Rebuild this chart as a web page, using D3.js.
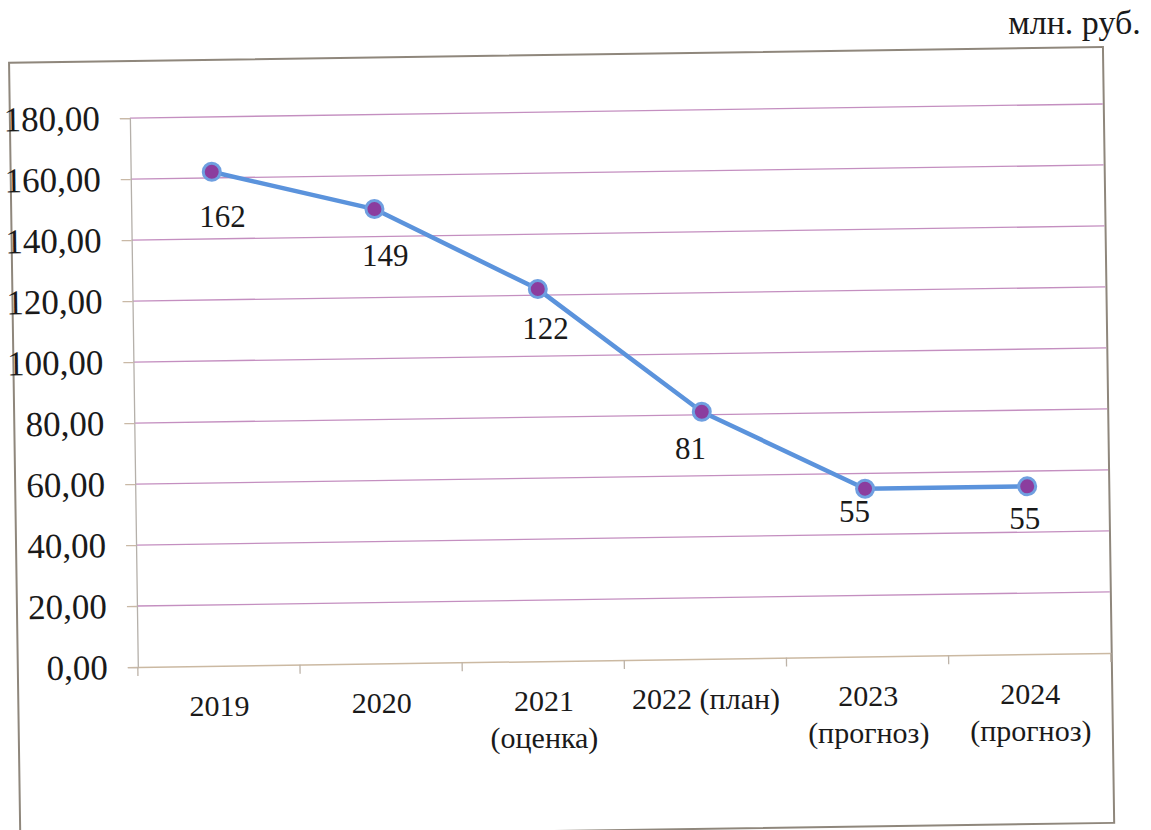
<!DOCTYPE html>
<html><head><meta charset="utf-8">
<script src="https://cdn.jsdelivr.net/npm/d3@7"></script>
<style>
html,body{margin:0;padding:0;background:#fff;}
svg{display:block;}
</style>
</head><body>
<svg id="chart" width="1151" height="830"></svg>
<script>
// Data
const categories = [["2019"], ["2020"], ["2021", "(оценка)"], ["2022 (план)"], ["2023", "(прогноз)"], ["2024", "(прогноз)"]];
const values = [162, 149, 122, 81, 55, 55];
const valueLabels = ["162", "149", "122", "81", "55", "55"];
const yTicks = [0, 20, 40, 60, 80, 100, 120, 140, 160, 180];
const unitLabel = "млн. руб.";
// label nudges (style)
const labelDx = [10, 10, 7, -12, -11, -3];
const labelDy = [55, 57, 50, 47, 33, 43];

const FONT = '"Liberation Serif", serif';
const ANG = -0.83, RCX = 620, RCY = 400;
const ar = ANG * Math.PI / 180;
const rot = (px, py) => [RCX + (px - RCX) * Math.cos(ar) - (py - RCY) * Math.sin(ar),
                         RCY + (px - RCX) * Math.sin(ar) + (py - RCY) * Math.cos(ar)];

const svg = d3.select("#chart");
const g = svg.append("g").attr("transform", `rotate(${ANG},${RCX},${RCY})`);
const tg = svg.append("g");

const box = {x: 14, y: 54, w: 1094, h: 776};
const plot = {l: 134, r: 1107, t: 111, b: 660};

g.append("rect").attr("x", box.x).attr("y", box.y).attr("width", box.w).attr("height", box.h)
  .attr("fill", "#fff").attr("stroke", "#8f877c").attr("stroke-width", 2);

const x = d3.scaleBand().domain(categories.map((d, i) => i)).range([plot.l, plot.r]);
const y = d3.scaleLinear().domain([0, 180]).range([plot.b, plot.t]);

// gridlines
g.append("g").selectAll("line").data(yTicks.filter(d => d > 0)).join("line")
  .attr("x1", plot.l).attr("x2", plot.r).attr("y1", d => y(d)).attr("y2", d => y(d))
  .attr("stroke", "#c48fc0").attr("stroke-width", 1.3);

// y axis
const yAxis = d3.axisLeft(y).tickValues(yTicks).tickSize(10).tickPadding(20)
  .tickFormat(d => d3.format(".2f")(d).replace(".", ","));
const ya = g.append("g").attr("transform", `translate(${plot.l},0)`).call(yAxis);
ya.select(".domain").attr("stroke", "#b5b0aa").attr("stroke-width", 1.3);
ya.selectAll(".tick line").attr("stroke", "#c9b9a6").attr("stroke-width", 1.3);
ya.selectAll("text").style("font-family", FONT).style("font-size", "35px").attr("fill", "#1a1a1a");

// x axis
const xa = g.append("g").attr("transform", `translate(0,${plot.b})`)
  .call(d3.axisBottom(x).tickSize(0).tickFormat(""));
xa.select(".domain").attr("stroke", "#cbb9a2").attr("stroke-width", 1.5);
xa.selectAll(".tick").remove();
const bounds = d3.range(categories.length + 1).map(i => plot.l + i * x.bandwidth());
xa.selectAll(".btick").data(bounds).join("line").attr("class", "btick")
  .attr("x1", d => d).attr("x2", d => d).attr("y1", 0).attr("y2", 9)
  .attr("stroke", "#bdb3a8").attr("stroke-width", 1.3);

// line
const cx = i => x(i) + x.bandwidth() / 2;
const line = d3.line().x((d, i) => cx(i)).y(d => y(d));
g.append("path").datum(values).attr("d", line).attr("fill", "none")
  .attr("stroke", "#5b93dc").attr("stroke-width", 4.5).attr("stroke-linejoin", "round");

// markers
g.append("g").selectAll("circle").data(values).join("circle")
  .attr("cx", (d, i) => cx(i)).attr("cy", d => y(d)).attr("r", 8.5)
  .attr("fill", "#8b3d9e").attr("stroke", "#6f9fe0").attr("stroke-width", 3);

// text helper (positions through rotation, text upright)
function addText(px, py, str, size, anchor) {
  const p = rot(px, py);
  return tg.append("text").attr("x", p[0]).attr("y", p[1])
    .attr("text-anchor", anchor).attr("font-family", FONT).attr("font-size", size)
    .style("font-family", FONT).style("font-size", size + "px")
    .attr("fill", "#1a1a1a").text(str);
}

// category labels
categories.forEach((lines, i) => {
  lines.forEach((s, j) => addText(cx(i), plot.b + 50 + j * 37, s, 30, "middle"));
});

// data labels
values.forEach((v, i) => addText(cx(i) + labelDx[i], y(v) + labelDy[i], valueLabels[i], 31, "middle"));

// unit label
addText(1146, 42, unitLabel, 34, "end");
</script>
</body></html>
